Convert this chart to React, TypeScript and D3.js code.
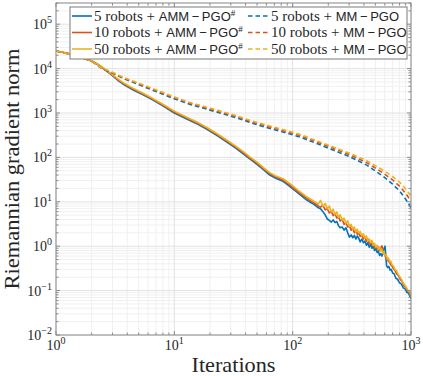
import React from 'react';
import * as d3 from 'd3';

const W = 423;
const H = 376;
const PLOT = { left: 56, right: 411, top: 3, bottom: 335 };

const xDomain: [number, number] = [1, 1000];
const yDomain: [number, number] = [1e-2, 3e5];
const xTickExps = [0, 1, 2, 3];
const yTickExps = [-2, -1, 0, 1, 2, 3, 4, 5];

const robotLabels = ['5 robots', '10 robots', '50 robots'];
const seriesColors = ['#0072BD', '#D95319', '#EDB120'];

// AMM-PGO# (solid)
const amm5: [number, number][] = [
  [1, 25000], [1.3, 21500], [1.6, 18300], [2, 14800], [2.3, 12000], [2.6, 9300], [3, 6900], [3.4, 5200],
  [3.8, 4250], [4.5, 3300], [5.5, 2550], [6.5, 2000], [8, 1450], [10, 1000], [13, 715], [16, 550],
  [19, 425], [23, 310], [28, 218], [33, 162], [38, 122], [44, 90], [50, 70], [57, 52], [64, 40],
  [72, 34], [83, 29], [95, 22], [110, 16], [130, 11.2], [142, 9.6], [150, 8.9], [158, 8.0], [165, 7.3],
  [172, 7.0], [180, 6.0], [188, 5.1], [196, 4.1], [204, 3.8], [212, 3.5], [220, 3.9], [228, 3.4],
  [236, 3.6], [244, 2.9], [252, 2.6], [262, 2.7], [272, 2.3], [282, 2.6], [292, 2.0], [302, 1.6],
  [312, 1.8], [322, 1.55], [332, 1.75], [342, 1.45], [352, 1.7], [362, 1.5], [372, 1.25], [384, 1.45],
  [396, 1.2], [408, 1.3], [420, 1.05], [432, 1.2], [444, 0.95], [456, 1.1], [468, 0.9], [480, 1.0],
  [492, 0.8], [505, 0.88], [518, 0.72], [530, 0.78], [542, 0.62], [555, 0.68], [568, 0.6], [580, 0.75],
  [592, 0.88], [603, 1.0], [612, 0.62], [622, 0.36], [635, 0.33], [650, 0.35], [665, 0.29], [680, 0.3],
  [700, 0.25], [720, 0.24], [745, 0.19], [770, 0.18], [800, 0.15], [830, 0.14], [860, 0.115], [890, 0.11],
  [920, 0.092], [950, 0.088], [980, 0.075], [1000, 0.066],
];
const amm10: [number, number][] = [
  [1, 25000], [1.3, 21500], [1.6, 18300], [2, 14900], [2.3, 12100], [2.6, 9500], [3, 7100], [3.4, 5450],
  [3.8, 4450], [4.5, 3450], [5.5, 2650], [6.5, 2080], [8, 1510], [10, 1050], [13, 750], [16, 575],
  [19, 445], [23, 325], [28, 230], [33, 171], [38, 129], [44, 95], [50, 74], [57, 55], [64, 43],
  [72, 36], [83, 31], [95, 23.5], [110, 17.2], [130, 12.2], [142, 10.4], [150, 9.6], [158, 8.8],
  [165, 8.1], [172, 7.6], [180, 8.4], [188, 6.6], [196, 7.0], [204, 5.6], [212, 6.1], [220, 4.9],
  [228, 5.4], [236, 4.3], [244, 4.6], [252, 3.7], [262, 4.0], [272, 3.1], [282, 3.4], [292, 2.7],
  [302, 2.9], [312, 2.3], [322, 2.5], [332, 2.0], [342, 2.3], [352, 1.85], [362, 2.0], [372, 1.65],
  [384, 1.8], [396, 1.45], [408, 1.6], [420, 1.3], [432, 1.45], [444, 1.15], [456, 1.25], [468, 1.05],
  [480, 1.15], [492, 0.92], [505, 1.02], [518, 0.85], [530, 0.95], [542, 0.8], [555, 0.9], [568, 1.02],
  [580, 0.8], [592, 0.68], [605, 0.6], [618, 0.55], [632, 0.5], [646, 0.45], [660, 0.43], [675, 0.38],
  [690, 0.36], [710, 0.31], [730, 0.29], [755, 0.24], [780, 0.22], [810, 0.18], [840, 0.16], [870, 0.13],
  [900, 0.12], [935, 0.1], [965, 0.092], [1000, 0.075],
];
const amm50: [number, number][] = [
  [1, 25000], [1.3, 21600], [1.6, 18400], [2, 15000], [2.3, 12300], [2.6, 9700], [3, 7300], [3.4, 5650],
  [3.8, 4600], [4.5, 3580], [5.5, 2750], [6.5, 2160], [8, 1570], [10, 1100], [13, 785], [16, 600],
  [19, 465], [23, 340], [28, 241], [33, 180], [38, 136], [44, 100], [50, 78], [57, 58], [64, 45.5],
  [72, 38], [83, 33], [95, 25.5], [110, 18.5], [130, 13.2], [142, 11.4], [150, 10.4], [158, 9.6],
  [165, 9.0], [172, 10.8], [180, 7.8], [188, 9.2], [196, 7.0], [204, 8.0], [212, 5.9], [220, 6.8],
  [228, 5.2], [236, 5.9], [244, 4.5], [252, 5.1], [262, 3.9], [272, 4.3], [282, 3.3], [292, 3.7],
  [302, 2.8], [312, 3.1], [322, 2.4], [332, 2.7], [342, 2.1], [352, 2.4], [362, 1.95], [372, 2.15],
  [384, 1.7], [396, 1.9], [408, 1.5], [420, 1.7], [432, 1.3], [444, 1.45], [456, 1.2], [468, 1.35],
  [480, 1.05], [492, 1.15], [505, 0.95], [518, 1.05], [530, 0.85], [542, 0.95], [555, 0.78], [568, 0.86],
  [580, 0.68], [592, 0.75], [605, 0.6], [618, 0.64], [632, 0.5], [646, 0.54], [660, 0.44], [675, 0.46],
  [690, 0.38], [710, 0.36], [730, 0.3], [755, 0.28], [780, 0.23], [810, 0.2], [840, 0.17], [870, 0.14],
  [900, 0.125], [935, 0.105], [965, 0.095], [1000, 0.08],
];

// MM-PGO (dashed)
const mm5: [number, number][] = [
  [1, 25000], [1.5, 19500], [2, 14700], [2.43, 10100], [3, 7900], [3.7, 6000], [5.1, 4250], [7.1, 3000],
  [9.8, 2130], [13.6, 1560], [18.8, 1220], [26, 950], [35, 750], [43.6, 610], [60, 470], [83, 372],
  [115, 288], [160, 205], [220, 146], [305, 103], [423, 67], [585, 37], [700, 25], [809, 17], [900, 11.5],
  [1000, 7.3],
];
const mm10: [number, number][] = [
  [1, 25000], [1.5, 19500], [2, 14700], [2.43, 10200], [3, 8100], [3.7, 6200], [5.1, 4450], [7.1, 3150],
  [9.8, 2250], [13.6, 1650], [18.8, 1290], [26, 1010], [35, 800], [43.6, 650], [60, 505], [83, 400],
  [115, 310], [160, 222], [220, 160], [305, 114], [423, 76], [585, 44], [700, 31], [809, 22], [900, 15.5],
  [1000, 10.5],
];
const mm50: [number, number][] = [
  [1, 25000], [1.5, 19500], [2, 14700], [2.43, 10300], [3, 8250], [3.7, 6350], [5.1, 4600], [7.1, 3280],
  [9.8, 2350], [13.6, 1720], [18.8, 1350], [26, 1060], [35, 840], [43.6, 685], [60, 535], [83, 425],
  [115, 330], [160, 237], [220, 172], [305, 123], [423, 84], [585, 51], [700, 37], [809, 27], [900, 19.5],
  [1000, 13.5],
];

const solidSeries = [amm5, amm10, amm50];
const dashedSeries = [mm5, mm10, mm50];

const SERIF = "'Liberation Serif', 'Times New Roman', serif";
const SANS = "'Liberation Sans', Arial, sans-serif";
const AXIS = '#8c8c8c';
const TXT = '#262626';

function minorValues(lo: number, hi: number, maxV: number) {
  const out: number[] = [];
  for (let e = lo; e < hi; e++) {
    for (let k = 2; k <= 9; k++) {
      const v = k * Math.pow(10, e);
      if (v <= maxV) out.push(v);
    }
  }
  return out;
}

function expLabel(e: number) {
  return e < 0 ? '\u2212' + Math.abs(e) : String(e);
}

export default function App() {
  const x = d3.scaleLog().domain(xDomain).range([PLOT.left, PLOT.right]);
  const y = d3.scaleLog().domain(yDomain).range([PLOT.bottom, PLOT.top]);
  const line = d3
    .line<[number, number]>()
    .x((d) => x(d[0]))
    .y((d) => y(d[1]));

  const xMinor = minorValues(0, 3, 1000);
  const yMinor = minorValues(-2, 6, 3e5);
  const xMajor = xTickExps.map((e) => Math.pow(10, e));
  const yMajor = yTickExps.map((e) => Math.pow(10, e));

  const majT = 4;
  const minT = 2.5;

  const legendRows = [16, 32.5, 49];
  const col1 = { x0: 72, x1: 92, tx: 94 };
  const col2 = { x0: 248, x1: 269, tx: 271 };

  return (
    <svg width={W} height={H} style={{ position: 'absolute', left: 0, top: 0, background: '#fff' }}>
      <defs>
        <clipPath id="plotclip">
          <rect x={PLOT.left} y={PLOT.top} width={PLOT.right - PLOT.left} height={PLOT.bottom - PLOT.top} />
        </clipPath>
      </defs>
      <rect x={0} y={0} width={W} height={H} fill="#fff" />
      {/* minor grid */}
      {xMinor.map((v, i) => (
        <line key={'xm' + i} x1={x(v)} x2={x(v)} y1={PLOT.top} y2={PLOT.bottom} stroke="#f0f0f0" strokeWidth={1} />
      ))}
      {yMinor.map((v, i) => (
        <line key={'ym' + i} x1={PLOT.left} x2={PLOT.right} y1={y(v)} y2={y(v)} stroke="#f0f0f0" strokeWidth={1} />
      ))}
      {/* major grid */}
      {xMajor.map((v, i) => (
        <line key={'xg' + i} x1={x(v)} x2={x(v)} y1={PLOT.top} y2={PLOT.bottom} stroke="#e2e2e2" strokeWidth={1} />
      ))}
      {yMajor.map((v, i) => (
        <line key={'yg' + i} x1={PLOT.left} x2={PLOT.right} y1={y(v)} y2={y(v)} stroke="#e2e2e2" strokeWidth={1} />
      ))}

      {/* data */}
      <g clipPath="url(#plotclip)" fill="none" strokeWidth={1.6} strokeLinejoin="round">
        {solidSeries.map((s, i) => (
          <path key={'s' + i} d={line(s) || ''} stroke={seriesColors[i]} />
        ))}
        {dashedSeries.map((s, i) => (
          <path key={'d' + i} d={line(s) || ''} stroke={seriesColors[i]} strokeDasharray="4.5,3" />
        ))}
      </g>

      {/* axes box */}
      <rect x={PLOT.left} y={PLOT.top} width={PLOT.right - PLOT.left} height={PLOT.bottom - PLOT.top} fill="none" stroke={AXIS} strokeWidth={1} />
      {/* ticks */}
      <g stroke={AXIS} strokeWidth={1}>
        {xMajor.map((v, i) => (
          <g key={'xt' + i}>
            <line x1={x(v)} x2={x(v)} y1={PLOT.bottom} y2={PLOT.bottom - majT} />
            <line x1={x(v)} x2={x(v)} y1={PLOT.top} y2={PLOT.top + majT} />
          </g>
        ))}
        {xMinor.map((v, i) => (
          <g key={'xmt' + i}>
            <line x1={x(v)} x2={x(v)} y1={PLOT.bottom} y2={PLOT.bottom - minT} />
            <line x1={x(v)} x2={x(v)} y1={PLOT.top} y2={PLOT.top + minT} />
          </g>
        ))}
        {yMajor.map((v, i) => (
          <g key={'yt' + i}>
            <line x1={PLOT.left} x2={PLOT.left + majT} y1={y(v)} y2={y(v)} />
            <line x1={PLOT.right} x2={PLOT.right - majT} y1={y(v)} y2={y(v)} />
          </g>
        ))}
        {yMinor.map((v, i) => (
          <g key={'ymt' + i}>
            <line x1={PLOT.left} x2={PLOT.left + minT} y1={y(v)} y2={y(v)} />
            <line x1={PLOT.right} x2={PLOT.right - minT} y1={y(v)} y2={y(v)} />
          </g>
        ))}
      </g>

      {/* tick labels */}
      <g fontFamily={SERIF} fill={TXT} fontSize={14}>
        {xTickExps.map((e, i) => (
          <text key={'xl' + i} x={x(Math.pow(10, e))} y={PLOT.bottom + 15} textAnchor="middle">
            10<tspan fontSize={10} dy={-6}>{expLabel(e)}</tspan>
          </text>
        ))}
        {yTickExps.map((e, i) => (
          <text key={'yl' + i} x={PLOT.left - 4} y={y(Math.pow(10, e)) + 5} textAnchor="end">
            10<tspan fontSize={10} dy={-6}>{expLabel(e)}</tspan>
          </text>
        ))}
      </g>

      {/* axis labels */}
      <text x={(PLOT.left + PLOT.right) / 2} y={372} textAnchor="middle" fontFamily={SERIF} fontSize={21} fill={TXT} textLength={84} lengthAdjust="spacingAndGlyphs">
        Iterations
      </text>
      <text
        transform={`translate(19, ${(PLOT.top + PLOT.bottom) / 2}) rotate(-90)`}
        textAnchor="middle"
        fontFamily={SERIF}
        fontSize={20}
        fill={TXT}
        textLength={241}
        lengthAdjust="spacingAndGlyphs"
      >
        Riemannian gradient norm
      </text>

      {/* legend */}
      <rect x={70} y={7} width={337} height={52} fill="#fff" stroke="#7a7a7a" strokeWidth={1} />
      {robotLabels.map((lab, i) => (
        <g key={'lg' + i}>
          <line x1={col1.x0} x2={col1.x1} y1={legendRows[i]} y2={legendRows[i]} stroke={seriesColors[i]} strokeWidth={1.6} />
          <text x={col1.tx} y={legendRows[i] + 4.5} fill={TXT} fontSize={15}>
            <tspan fontFamily={SERIF}>{lab + ' + '}</tspan>
            <tspan fontFamily={SANS} fontSize={13}>{'AMM\u2009\u2212\u2009PGO'}</tspan>
            <tspan fontFamily={SERIF} fontSize={9} dy={-5}>#</tspan>
          </text>
          <line x1={col2.x0} x2={col2.x1} y1={legendRows[i]} y2={legendRows[i]} stroke={seriesColors[i]} strokeWidth={1.6} strokeDasharray="4.5,3" />
          <text x={col2.tx} y={legendRows[i] + 4.5} fill={TXT} fontSize={15}>
            <tspan fontFamily={SERIF}>{lab + ' + '}</tspan>
            <tspan fontFamily={SANS} fontSize={13}>{'MM\u2009\u2212\u2009PGO'}</tspan>
          </text>
        </g>
      ))}
    </svg>
  );
}
